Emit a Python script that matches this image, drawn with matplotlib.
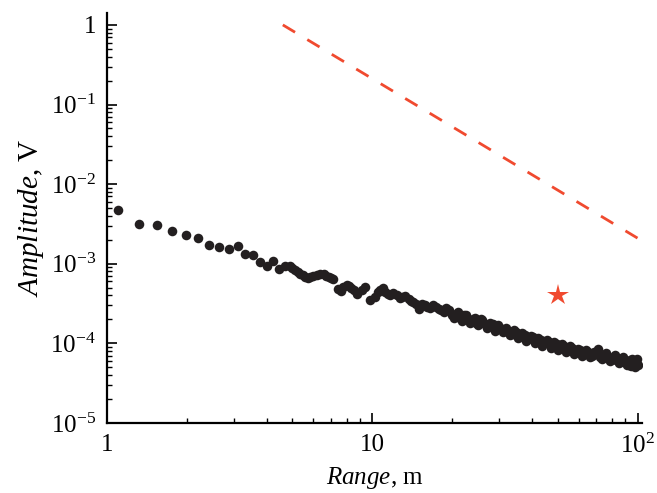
import numpy as np
import matplotlib
matplotlib.use("Agg")
import matplotlib.pyplot as plt
from matplotlib.ticker import LogLocator, FuncFormatter, NullFormatter

# ----------------------------------------------------------------------------
# data (range in m, amplitude in V)
# ----------------------------------------------------------------------------
range_m = [1.10, 1.32, 1.54, 1.76, 1.99, 2.20, 2.43, 2.65, 2.89, 3.12,
           3.32, 3.56, 3.78, 4.00, 4.22, 4.46, 4.68, 4.90, 5.12, 5.35,
           5.59, 5.83, 6.18, 6.55, 6.84, 7.14, 7.41, 7.79, 8.14, 8.50,
           8.76, 9.15, 9.41, 9.83, 10.26, 10.72, 11.2, 11.7, 12.4, 12.95,
           13.7, 14.3, 14.95, 15.4, 16.1, 17.0, 17.8, 18.7, 19.4, 20.0,
           20.7, 21.5, 22.2, 23.0, 23.9, 24.7, 25.6, 26.5, 27.4, 28.4,
           29.4, 30.4, 31.5, 32.6, 33.8, 34.9, 36.2, 37.5, 38.8, 40.2,
           41.6, 43.1, 44.6, 46.2, 47.8, 49.5, 51.2, 53.0, 54.9, 56.8,
           58.9, 60.9, 63.1, 65.3, 67.6, 70.0, 71.2, 72.5, 75.0, 77.8,
           80.5, 83.3, 86.3, 89.3, 92.5, 94.1, 96.6, 99.1, 100.0, 94.8]
amplitude_v = [4.7e-3, 3.15e-3, 3.05e-3, 2.6e-3, 2.3e-3, 2.1e-3, 1.72e-3, 1.64e-3, 1.55e-3, 1.68e-3,
               1.33e-3, 1.27e-3, 1.05e-3, 9.3e-4, 1.07e-3, 8.5e-4, 9.35e-4, 9.3e-4, 8.25e-4, 7.5e-4,
               6.82e-4, 6.82e-4, 7.14e-4, 7.35e-4, 6.82e-4, 6.4e-4, 4.8e-4, 5.08e-4, 5.2e-4, 4.73e-4,
               4.22e-4, 4.63e-4, 5.16e-4, 3.55e-4, 3.81e-4, 4.73e-4, 4.43e-4, 4.02e-4, 4.02e-4, 3.84e-4,
               3.65e-4, 3.32e-4, 2.74e-4, 3.16e-4, 2.88e-4, 3.01e-4, 2.74e-4, 2.51e-4, 2.66e-4, 2.30e-4,
               2.37e-4, 2.11e-4, 2.24e-4, 1.94e-4, 2.0e-4, 1.78e-4, 2.05e-4, 1.73e-4, 1.63e-4, 1.73e-4,
               1.50e-4, 1.58e-4, 1.41e-4, 1.45e-4, 1.33e-4, 1.37e-4, 1.22e-4, 1.26e-4, 1.12e-4, 1.19e-4,
               1.06e-4, 1.09e-4, 1.0e-4, 1.03e-4, 9.2e-5, 9.7e-5, 8.66e-5, 9.2e-5, 8.2e-5, 8.66e-5,
               7.7e-5, 8.2e-5, 7.3e-5, 7.7e-5, 6.9e-5, 7.5e-5, 8.6e-5, 6.7e-5, 7.1e-5, 6.3e-5,
               6.7e-5, 6.1e-5, 6.3e-5, 5.8e-5, 5.3e-5, 6.1e-5, 5.46e-5, 5.96e-5, 5.3e-5, 5.16e-5]

# the in-between samples that make the band look solid beyond ~5 m
range_m_fill = [5.0, 5.23, 5.47, 5.71, 6.0, 6.37, 6.7, 7.0, 7.6, 8.0,
                8.3, 10.5, 11.0, 11.45, 12.0, 12.7, 13.3, 14.0, 14.6, 15.8,
                16.5, 17.4, 18.2, 19.0, 20.3, 21.1, 21.8, 22.6, 23.4, 24.3,
                25.1, 26.0, 27.0, 27.9, 28.9, 29.9, 31.0, 32.0, 33.2, 34.3,
                35.5, 36.8, 38.1, 39.5, 40.9, 42.3, 43.8, 45.4, 47.0, 48.6,
                50.3, 52.1, 53.9, 55.8, 57.8, 59.9, 62.0, 64.2, 66.4, 68.8,
                73.7, 76.4, 79.1, 81.9, 84.8, 87.8, 90.9, 95.3, 97.8, 99.5]
amplitude_v_fill = [8.8e-4, 7.8e-4, 7.2e-4, 6.6e-4, 7.1e-4, 7.4e-4, 7.0e-4, 6.6e-4, 4.6e-4, 5.4e-4,
                    4.9e-4, 4.4e-4, 4.9e-4, 4.2e-4, 4.3e-4, 3.7e-4, 3.9e-4, 3.4e-4, 3.1e-4, 3.05e-4,
                    2.75e-4, 2.9e-4, 2.6e-4, 2.75e-4, 2.1e-4, 2.45e-4, 1.9e-4, 2.25e-4, 1.8e-4, 2.1e-4,
                    1.68e-4, 1.98e-4, 1.58e-4, 1.82e-4, 1.45e-4, 1.7e-4, 1.37e-4, 1.58e-4, 1.28e-4, 1.48e-4,
                    1.17e-4, 1.36e-4, 1.07e-4, 1.25e-4, 1.01e-4, 1.17e-4, 9.4e-5, 1.1e-4, 8.7e-5, 1.03e-4,
                    8.2e-5, 9.7e-5, 7.7e-5, 9.2e-5, 7.3e-5, 8.6e-5, 7.0e-5, 8.2e-5, 6.7e-5, 7.8e-5,
                    6.3e-5, 7.5e-5, 5.95e-5, 7.1e-5, 5.65e-5, 6.7e-5, 5.35e-5, 6.3e-5, 5.1e-5, 6.3e-5]

# 1/R^2 reference line (end points)
line_range = [4.6, 100.0]
line_amp = [1.0, 2.1e-3]

# single marked point
star_range = [50.0]
star_amp = [4.0e-4]

plt.rcParams["font.family"] = "Liberation Serif"
plt.rcParams["mathtext.fontset"] = "custom"
plt.rcParams["mathtext.rm"] = "Liberation Serif"
plt.rcParams["mathtext.it"] = "Liberation Serif:italic"

fig = plt.figure(figsize=(6.57, 4.93), dpi=100)
ax = fig.add_axes([0.1629, 0.142, 0.8143, 0.8316])

dot_color = "#231f20"
ax.plot(range_m, amplitude_v, "o", color=dot_color, ms=6.9, mew=0)
ax.plot(range_m_fill, amplitude_v_fill, "o", color=dot_color, ms=6.9, mew=0)
ax.plot(line_range, line_amp, color="#f04a2f", lw=2, linestyle=(0, (5.14, 5.14)))
ax.plot(star_range, star_amp, "*", color="#f04a2f", ms=16, mew=0)

ax.set_xscale("log")
ax.set_yscale("log")
ax.set_xlim(1, 104)
ax.set_ylim(1e-5, 1.41)


def log_label(v, pos):
    n = int(round(np.log10(v)))
    if n == 0:
        return "1"
    if n == 1:
        return "10"
    return r"$10^{%d}$" % n


for axis in (ax.xaxis, ax.yaxis):
    axis.set_major_locator(LogLocator(base=10, numticks=12))
    axis.set_minor_locator(LogLocator(base=10, subs=np.arange(2, 10), numticks=12))
    axis.set_major_formatter(FuncFormatter(log_label))
    axis.set_minor_formatter(NullFormatter())

ax.spines["top"].set_visible(False)
ax.spines["right"].set_visible(False)
ax.spines["left"].set_linewidth(1.6)
ax.spines["bottom"].set_linewidth(1.6)
ax.tick_params(which="major", direction="in", length=7, width=1.2, labelsize=18, pad=8)
ax.tick_params(which="minor", direction="in", length=3.5, width=1.0)

ax.set_xlabel(r"$\mathit{Range}$, m", fontsize=18, labelpad=5)
ax.set_ylabel(r"$\mathit{Amplitude}$, V", fontsize=21, labelpad=3)

fig.savefig("out.png", dpi=100)
